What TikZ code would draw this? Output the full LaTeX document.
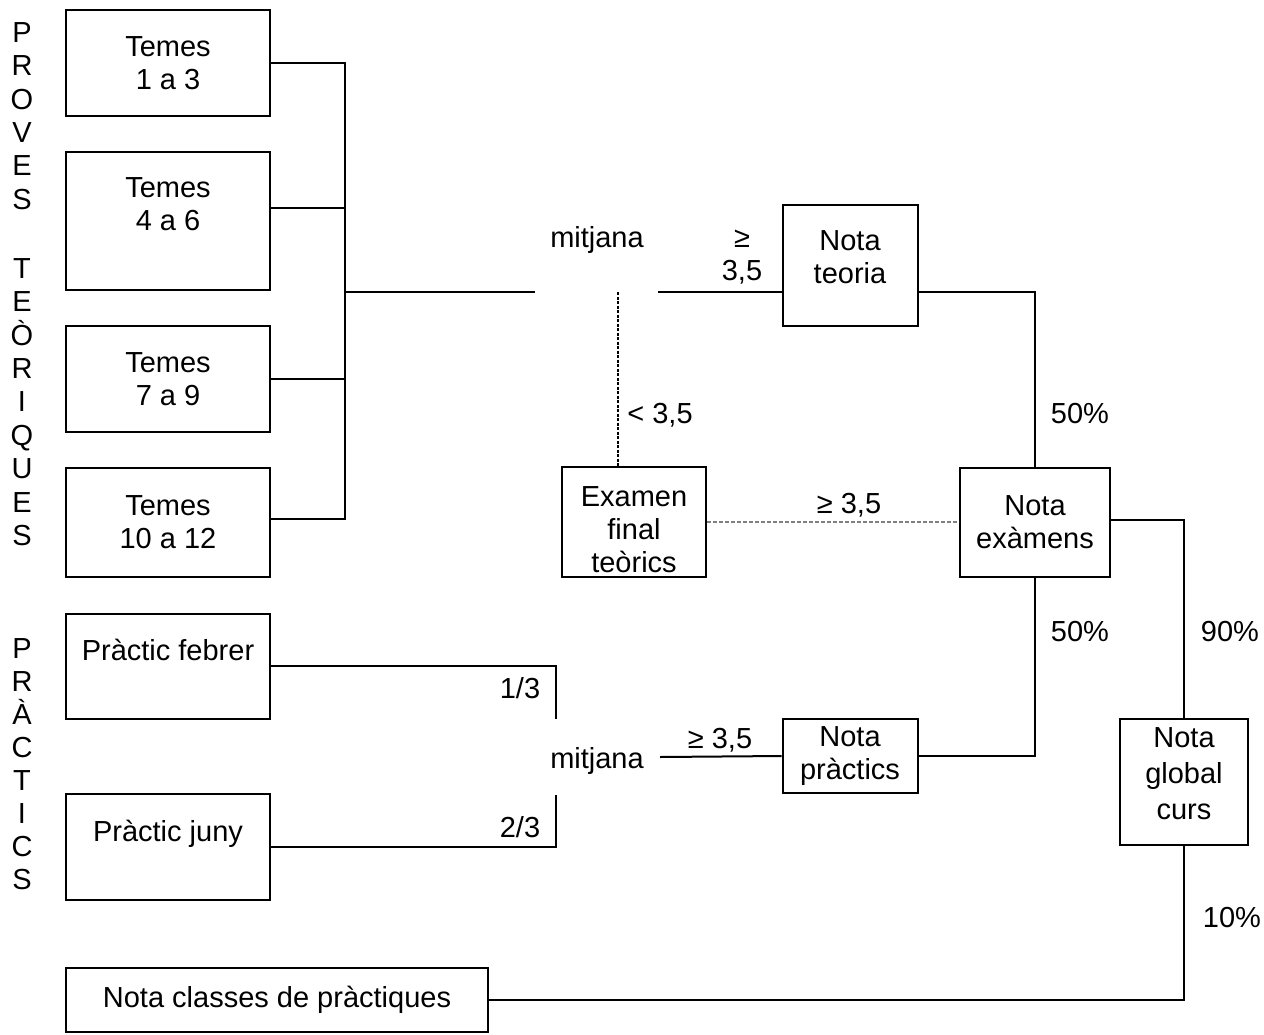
\documentclass[tikz,border=0pt]{standalone}
\usepackage{fontspec}
\setmainfont{Liberation Sans}
\usetikzlibrary{positioning, calc}

\begin{document}
\begin{tikzpicture}[
    x=1pt, y=-1pt,
    font=\fontsize{29}{33}\selectfont,
    box/.style={draw, line width=2pt, align=center, inner sep=0pt},
    lbl/.style={inner sep=0pt, align=center},
    wire/.style={line width=2pt},
    cutwire/.style={line width=1.2pt, dash pattern=on 3pt off 1.5pt},
    greywire/.style={line width=1.2pt, gray, dash pattern=on 4pt off 2pt}
]
    \useasboundingbox (0,0) rectangle (1264,1034);

    % Side titles
    \node[lbl, font=\fontsize{29}{33.4}\selectfont] (provtit) at (22,284) {P\\R\\O\\V\\E\\S\\[35.6pt]T\\E\\Ò\\R\\I\\Q\\U\\E\\S};
    \node[lbl] (practit) at (22,764) {P\\R\\À\\C\\T\\I\\C\\S};

    % Theory tests
    \node[box, minimum width=204pt, minimum height=106pt] (t13) at (168,63) {Temes\\1 a 3};
    \node[box, minimum width=204pt, minimum height=138pt] (t46) at (168,221) {Temes\\4 a 6\\\mbox{}};
    \node[box, minimum width=204pt, minimum height=106pt] (t79) at (168,379) {Temes\\7 a 9};
    \node[box, minimum width=204pt, minimum height=109pt] (t1012) at (168,522) {Temes\\10 a 12};

    % Practical tests
    \node[box, minimum width=204pt, minimum height=105pt] (febrer) at (168,666) {Pràctic febrer\\\mbox{}};
    \node[box, minimum width=204pt, minimum height=106pt] (juny) at (168,847) {Pràctic juny\\\mbox{}};
    \node[box, minimum width=422pt, minimum height=64pt] (classes) at (277,1000) {Nota classes de pràctiques};

    % Results
    \node[box, minimum width=135pt, minimum height=121pt] (teoria) at (850,265) {Nota\\teoria\\[-18pt]\mbox{}};
    \node[box, minimum width=144pt, minimum height=110pt] (final) at (634,522) {\rule{0pt}{35pt}Examen\\final\\teòrics};
    \node[box, minimum width=150pt, minimum height=109pt] (examens) at (1035,522) {Nota\\exàmens};
    \node[box, minimum width=135pt, minimum height=74pt] (practics) at (850,756) {Nota\\pràctics};
    \node[box, minimum width=128pt, minimum height=126pt] (global) at (1184,782) {Nota\\[3pt]global\\[3pt]curs\\[-17pt]\mbox{}};

    % Averages
    \node[lbl] (mitjT) at (597,240) {mitjana};
    \node[lbl] (mitjP) at (597,761) {mitjana};
    \coordinate (brk) at (345,292);
    \coordinate (mtL) at (535,292);
    \coordinate (mtR) at (658,292);
    \coordinate (mtD) at (618,292);
    \coordinate (mp1) at (556,719);
    \coordinate (mp2) at (556,795);
    \coordinate (mpR) at (660,757);

    % Connectors
    \draw[wire] (t13.east) -| (brk);
    \draw[wire] ([yshift=13pt]t46.east) -| (brk);
    \draw[wire] (t79.east) -| (brk);
    \draw[wire] ([yshift=3pt]t1012.east) -| (brk);
    \draw[wire] (brk) -- (mtL);
    \draw[wire] (mtR) -- (mtR -| teoria.west);
    \draw[cutwire] (mtD) -- (mtD |- final.north);
    \draw[greywire] (final.east) -- (final.east -| examens.west);
    \draw[wire] (teoria.east |- mtR) -| (examens.north);
    \draw[wire] ([yshift=2pt]examens.east) -| (global.north);
    \draw[wire] (febrer.east) -| (mp1);
    \draw[wire] (juny.east) -| (mp2);
    \draw[wire] (mpR) -- (practics.west);
    \draw[wire] (practics.east) -| (examens.south);
    \draw[wire] (global.south) |- (classes.east);

    % Labels
    \node[lbl] (geT) at (742,257) {≥\\3,5};
    \node[lbl] (ltT) at (660,415) {< 3,5};
    \node[lbl] (geF) at (849,505) {≥ 3,5};
    \node[lbl] (geP) at (720,740) {≥ 3,5};
    \node[lbl] (w13) at (520,688) {1/3};
    \node[lbl] (w23) at (520,827) {2/3};
    \node[lbl] (p50a) at (1080,414) {50\%};
    \node[lbl] (p50b) at (1080,632) {50\%};
    \node[lbl] (p90) at (1230,632) {90\%};
    \node[lbl] (p10) at (1232,918) {10\%};
\end{tikzpicture}
\end{document}
